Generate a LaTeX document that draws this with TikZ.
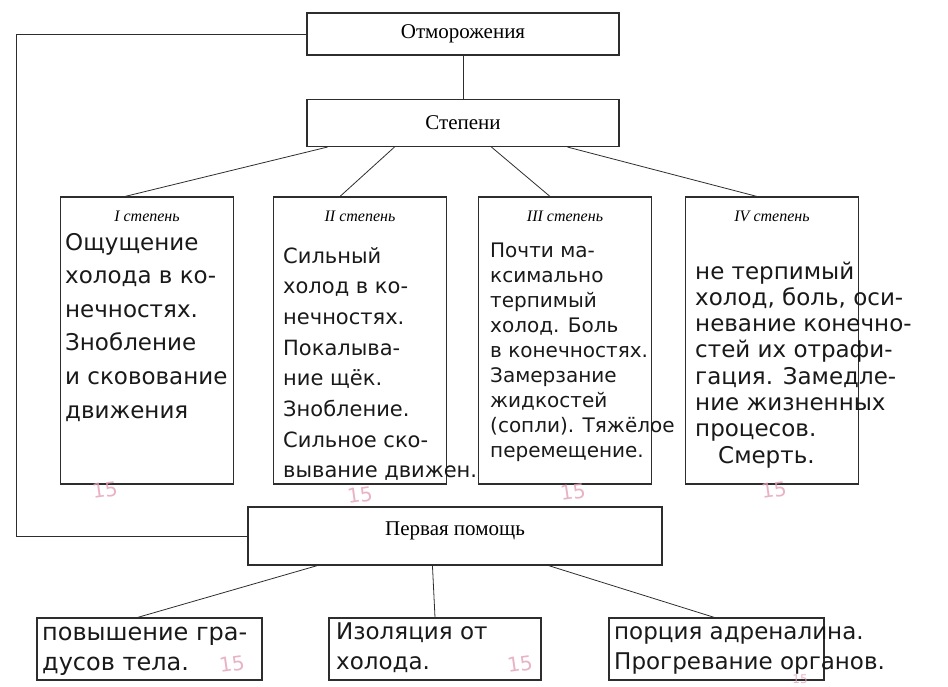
\documentclass[tikz,border=0pt]{standalone}
\usepackage{fontspec}
\setmainfont{Liberation Serif}
\newfontfamily\handfont{DejaVu Sans}
\usetikzlibrary{positioning,calc}
\definecolor{inkgray}{RGB}{45,45,45}
\definecolor{gradepink}{RGB}{228,160,180}

\tikzset{
  box/.style={draw=inkgray, line width=1.1pt, inner sep=0pt},
  degbox/.style={box, minimum width=173pt, minimum height=287pt},
  aidbox/.style={box, minimum height=62pt},
  link/.style={draw=inkgray, line width=0.8pt},
  title/.style={font=\fontsize{21}{24}\selectfont},
  hand/.style={anchor=base west, inner sep=0pt, text=black!90},
  grade/.style={text=gradepink, inner sep=0pt, font=\handfont\fontsize{20}{20}\selectfont, rotate=8},
}

\begin{document}
\begin{tikzpicture}[x=1pt,y=-1pt]
    \useasboundingbox (0,0) rectangle (948,686);
    % main boxes
    \node[box, title, minimum width=312pt, minimum height=42pt] (otm) at (463,34) {Отморожения};
    \node[box, title, minimum width=312pt, minimum height=47pt] (stp) at (463,123) {Степени};
    \node[box, title, minimum width=414pt, minimum height=58pt, text depth=14pt] (help) at (455,536) {Первая помощь};
    \draw[link] (otm) -- (stp);
    \draw[link] (otm.west) -- ++(-290,0) |- (help.west);
    % degrees
    \foreach \bx/\px/\rom in {d1/147/I, d2/360/II, d3/565/III, d4/772/IV}
        {\node[degbox] (\bx) at (\px,340.5) {};
         \node[font=\itshape\fontsize{16}{16}\selectfont] (\bx-head) at ([yshift=-20pt]\bx.north) {\rom\ степень};
        }
    \foreach \off/\bx/\dx in {21/d1/-22, 88/d2/-20, 185/d3/-15, 261/d4/-15}
        \draw[link] ([xshift=\off pt]stp.south west) -- ([xshift=\dx pt]\bx.north);
    % first aid
    \node[aidbox, minimum width=225pt] (a1) at (149.5,649) {};
    \node[aidbox, minimum width=212pt] (a2) at (435,649) {};
    \node[aidbox, minimum width=215pt] (a3) at (716.5,649) {};
    \draw[link] ([xshift=70pt]help.south west) -- ([xshift=-12pt]a1.north);
    \draw[link] ([xshift=185pt]help.south west) -- (a2.north);
    \draw[link] ([xshift=301pt]help.south west) -- ([xshift=-2pt]a3.north);
    % handwritten answers
    \foreach \txt [count=\i] in {Ощущение, холода в ко-, нечностях., Знобление, и сковование, движения}
        \node[hand, font=\handfont\fontsize{23}{23}\selectfont] (h1-\i) at (65,216.4+33.6*\i) {\txt};
    \foreach \txt [count=\i] in {Сильный, холод в ко-, нечностях., Покалыва-, ние щёк., Знобление., Сильное ско-, вывание движен.}
        \node[hand, font=\handfont\fontsize{21}{21}\selectfont] (h2-\i) at (283,232.3+30.7*\i) {\txt};
    \foreach \txt [count=\i] in {Почти ма-, ксимально, терпимый, холод. Боль, в конечностях., Замерзание, жидкостей, {(сопли). Тяжёлое}, перемещение.}
        \node[hand, font=\handfont\fontsize{20}{20}\selectfont] (h3-\i) at (490,231.9+25.1*\i) {\txt};
    \foreach \txt [count=\i] in {не терпимый, {холод, боль, оси-}, невание конечно-, стей их отрафи-, гация. Замедле-, ние жизненных, процесов., \quad Смерть.}
        \node[hand, font=\handfont\fontsize{23}{23}\selectfont] (h4-\i) at (695,252.7+26.3*\i) {\txt};
    \node[hand, font=\handfont\fontsize{24}{24}\selectfont] (ha1) at (42,640) {повышение гра-};
    \node[hand, font=\handfont\fontsize{24}{24}\selectfont] (hb1) at (42,670) {дусов тела.};
    \node[hand, font=\handfont\fontsize{23}{23}\selectfont] (ha3) at (614,639) {порция адреналина.};
    \node[hand, font=\handfont\fontsize{23}{23}\selectfont] (hb3) at (614,669) {Прогревание органов.};
    \node[hand, font=\handfont\fontsize{23}{23}\selectfont] (ha2) at (336,639) {Изоляция от};
    \node[hand, font=\handfont\fontsize{23}{23}\selectfont] (hb2) at (336,669) {холода.};
    % marks
    \foreach \gx/\gy [count=\i] in {105/490, 360/495, 573/492, 774/490, 232/664, 520/664}
        \node[grade, opacity=0.8] (g\i) at (\gx,\gy) {15};
    \node[grade, rotate=-8, font=\handfont\fontsize{12}{12}\selectfont, opacity=0.8] (g7) at (800,679) {15};
\end{tikzpicture}
\end{document}
